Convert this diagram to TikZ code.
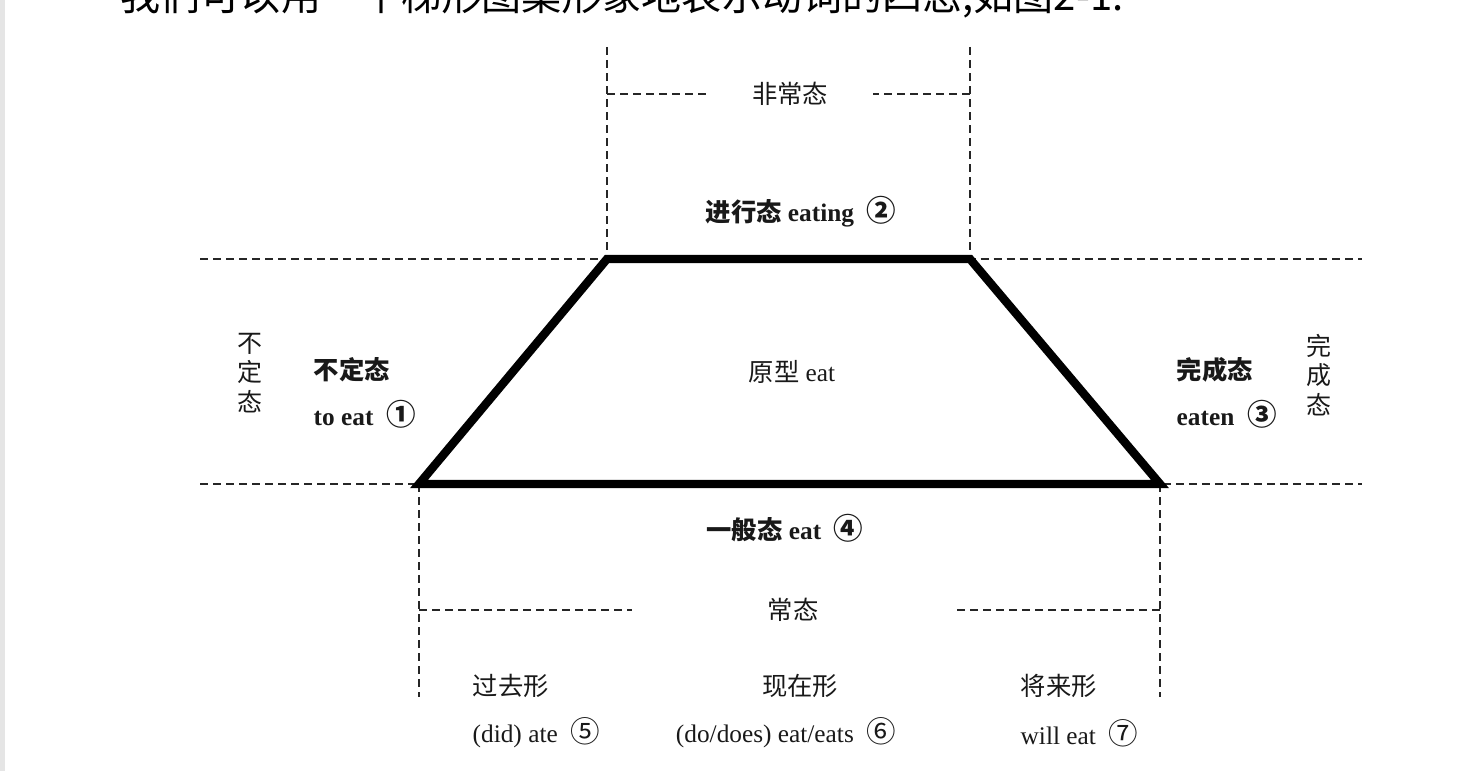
\documentclass[tikz,border=0pt]{standalone}
\usepackage{fontspec}
\setmainfont{Liberation Serif}
\newfontfamily\cjk{Noto Sans CJK SC}
\usetikzlibrary{positioning}
\tikzset{
  guide/.style={line width=0.6pt, dash pattern=on 2.3pt off 1.4pt, black!85},
  trapline/.style={line width=2.4pt, black, line join=miter},
  lbl/.style={font=\fontsize{7.2}{8.5}\selectfont, inner sep=0pt, text=black!90},
  lblb/.style={lbl, font=\fontsize{7.2}{8.5}\selectfont\bfseries},
  vlbl/.style={lbl, align=center, font=\fontsize{7.1}{8.3}\selectfont\cjk},
  gaplbl/.style={lbl, inner ysep=0pt}
}
\newcommand{\zh}[1]{{\cjk #1}}
\newcommand{\cnum}[1]{{\cjk\fontsize{8.4}{8.5}\selectfont #1}}

\begin{document}
\begin{tikzpicture}[x=0.01cm, y=-0.01cm]
  \useasboundingbox (0,0) rectangle (1478,771);
  \clip (0,0) rectangle (1478,771);
  \fill[black!10] (0,0) rectangle (5,771);
  \node[anchor=base west, inner sep=0pt, font=\fontsize{11.4}{13}\selectfont\cjk] (head) at (120,11) {我们可以用一个梯形图案形象地表示动词的四态,如图2-1:};

  \coordinate (tl) at (607,259);
  \coordinate (tr) at (970,259);
  \coordinate (bl) at (419,484);
  \coordinate (br) at (1160,484);
  \coordinate (tlu) at (607,47);
  \coordinate (tru) at (970,47);
  \coordinate (bld) at (419,697);
  \coordinate (brd) at (1160,697);
  \coordinate (hl) at (200,259);
  \coordinate (hr) at (1362,259);
  \coordinate (ll) at (200,484);
  \coordinate (lr) at (1362,484);

  \node[gaplbl, inner xsep=0.44cm] (rare) at (790,94) {\zh{非常态}};
  \node[gaplbl, inner xsep=1.35cm] (usual) at (793,610) {\zh{常态}};

  \draw[guide] (hl) -- (hr);
  \draw[guide] (ll) -- (lr);
  \draw[guide] (tlu) -- (tl);
  \draw[guide] (tru) -- (tr);
  \draw[guide] (bl) -- (bld);
  \draw[guide] (br) -- (brd);
  \draw[guide] (tl |- rare) -- (rare);
  \draw[guide] (tr |- rare) -- (rare);
  \draw[guide] (bl |- usual) -- (usual);
  \draw[guide] (br |- usual) -- (usual);

  \draw[trapline] (tl) -- (tr) -- (br) -- (bl) -- cycle;

  \node[lblb] (prog) at (801,212) {\zh{进行态} eating\enspace\cnum{②}};
  \node[lbl] (proto) at (792,372) {\zh{原型} eat};
  \node[lblb] (gen) at (785,528) {\zh{一般态} eat\enspace\cnum{④}};

  \node[vlbl] (infv) at (250,373) {不\\定\\态};
  \node[vlbl] (perfv) at (1319,375) {完\\成\\态};

  \node[lblb, anchor=west] (inf) at (313,370) {\zh{不定态}};
  \node[lblb, anchor=west] (infx) at ([yshift=-0.44cm]inf.west) {to eat\enspace\cnum{①}};
  \node[lblb, anchor=west] (perf) at (1176,370) {\zh{完成态}};
  \node[lblb, anchor=west] (perfx) at ([yshift=-0.44cm]perf.west) {eaten\enspace\cnum{③}};

  \node[lbl, anchor=west] (past) at (472,686) {\zh{过去形}};
  \node[lbl, anchor=west] (pastx) at ([yshift=-0.47cm]past.west) {(did) ate\enspace\cnum{⑤}};
  \node[lbl] (pres) at (800,686) {\zh{现在形}};
  \node[lbl] (presx) at (786,733) {(do/does) eat/eats\enspace\cnum{⑥}};
  \node[lbl, anchor=west] (fut) at (1020,686) {\zh{将来形}};
  \node[lbl, anchor=west] (futx) at ([yshift=-0.47cm]fut.west) {will eat\enspace\cnum{⑦}};
\end{tikzpicture}
\end{document}
